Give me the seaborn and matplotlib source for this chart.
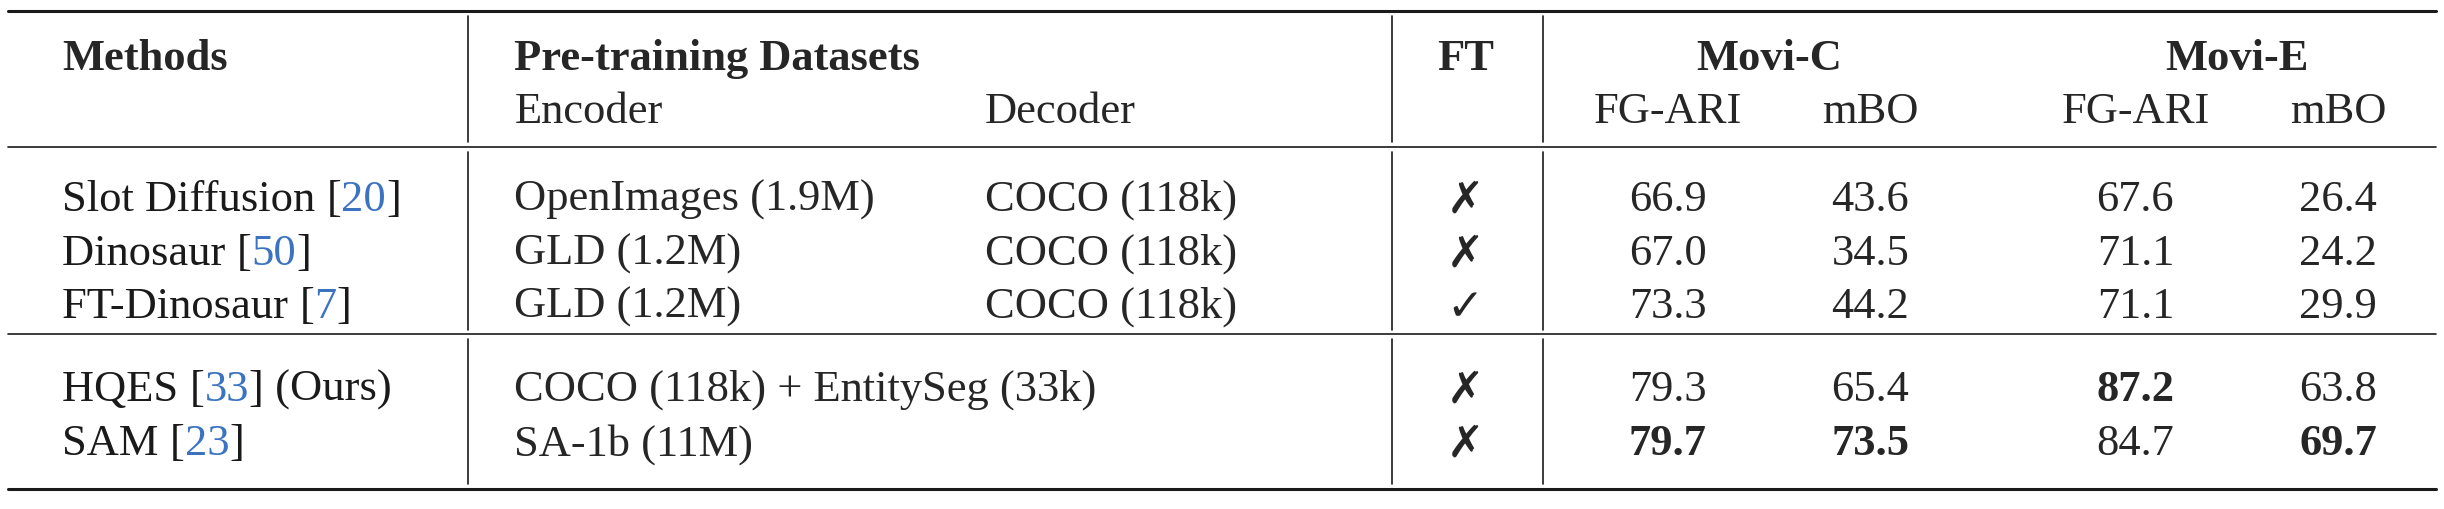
import matplotlib
matplotlib.use("Agg")
import matplotlib.pyplot as plt
import seaborn as sns

sns.set_theme(style="white")
plt.rcParams['font.family'] = ['Liberation Serif', 'DejaVu Sans']

methods = [("Slot Diffusion ", "20", ""), ("Dinosaur ", "50", ""), ("FT-Dinosaur ", "7", ""),
           ("HQES ", "33", " (Ours)"), ("SAM ", "23", "")]
encoders = ["OpenImages (1.9M)", "GLD (1.2M)", "GLD (1.2M)", "COCO (118k) + EntitySeg (33k)", "SA-1b (11M)"]
decoders = ["COCO (118k)", "COCO (118k)", "COCO (118k)", "", ""]
ft = [False, False, True, False, False]
movic_fgari = [66.9, 67.0, 73.3, 79.3, 79.7]
movic_mbo = [43.6, 34.5, 44.2, 65.4, 73.5]
movie_fgari = [67.6, 71.1, 71.1, 87.2, 84.7]
movie_mbo = [26.4, 24.2, 29.9, 63.8, 69.7]

W, H = 1568.0, 327.0
fig = plt.figure(figsize=(24.44, 5.10), dpi=100)
ax = fig.add_axes([0, 0, 1, 1])
ax.set_xlim(0, W); ax.set_ylim(H, 0); ax.axis("off")
fig.canvas.draw()
r = fig.canvas.get_renderer()
FS = 32
blue = "#3b73c0"

def seq(x, y, parts):
    for txt, col in parts:
        if not txt:
            continue
        t = ax.text(x, y, txt, fontsize=FS, color=col, va="center", ha="left")
        bb = t.get_window_extent(r).transformed(ax.transData.inverted())
        x = bb.x1

ax.plot([5, 1563], [8, 8], color="k", lw=2.2)
ax.plot([5, 1563], [95, 95], color="k", lw=1.2)
ax.plot([5, 1563], [215, 215], color="k", lw=1.2)
ax.plot([5, 1563], [314, 314], color="k", lw=2.2)
for vx in [300, 893, 990]:
    for y0, y1 in [(8, 95), (95, 215), (215, 314)]:
        ax.plot([vx, vx], [y0 + 3, y1 - 3], color="k", lw=1.2)

hy1, hy2 = 38, 72
ax.text(40, hy1, "Methods", fontsize=FS, weight="bold", va="center")
ax.text(330, hy1, "Pre-training Datasets", fontsize=FS, weight="bold", va="center")
ax.text(330, hy2, "Encoder", fontsize=FS, va="center")
ax.text(632, hy2, "Decoder", fontsize=FS, va="center")
ax.text(940, hy1, "FT", fontsize=FS, weight="bold", va="center", ha="center")
ax.text(1135, hy1, "Movi-C", fontsize=FS, weight="bold", va="center", ha="center")
ax.text(1435, hy1, "Movi-E", fontsize=FS, weight="bold", va="center", ha="center")
cols = [1070, 1200, 1370, 1500]
for cx, lab in zip(cols, ["FG-ARI", "mBO", "FG-ARI", "mBO"]):
    ax.text(cx, hy2, lab, fontsize=FS, va="center", ha="center")

rows_y = [128, 163, 197, 250, 285]
series = [movic_fgari, movic_mbo, movie_fgari, movie_mbo]
for i, y in enumerate(rows_y):
    a, b, c = methods[i]
    seq(40, y, [(a, "k"), ("[", "k"), (b, blue), ("]", "k"), (c, "k")])
    ax.text(330, y, encoders[i], fontsize=FS, va="center")
    if decoders[i]:
        ax.text(632, y, decoders[i], fontsize=FS, va="center")
    ax.text(940, y, "\u2713" if ft[i] else "\u2717", fontsize=FS, va="center", ha="center",
            family=["DejaVu Sans"], weight="bold")
    for cx, s in zip(cols, series):
        bold = (s[i] == max(s))
        ax.text(cx, y, f"{s[i]:.1f}", fontsize=FS, va="center", ha="center",
                weight="bold" if bold else "normal")

fig.savefig("out.png", dpi=100, facecolor="white")
